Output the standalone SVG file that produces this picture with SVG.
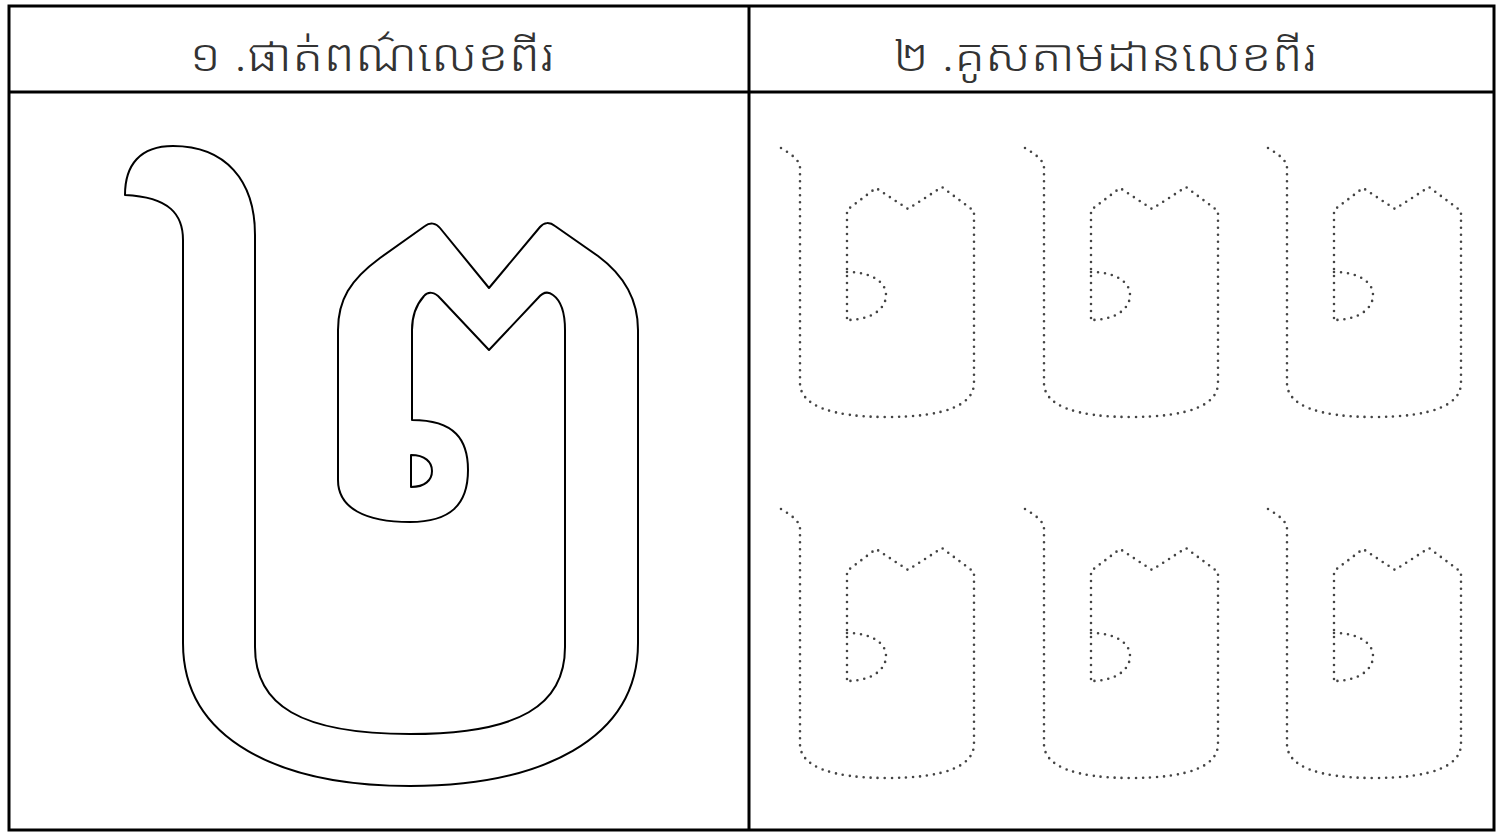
<svg xmlns="http://www.w3.org/2000/svg" width="1506" height="833" viewBox="0 0 1506 833">
  <defs>
    <style>
      .frame { fill: none; stroke: #000; stroke-width: 3; }
      .title { font-family: "Noto Sans Khmer", "Khmer OS", "Khmer OS System", "Noto Sans", "DejaVu Sans", sans-serif; font-size: 44px; font-weight: 300; fill: #333; text-anchor: middle; }
      .outline { fill: #fff; stroke: #000; stroke-width: 2; stroke-linejoin: round; }
      .dots { fill: none; stroke: #444; stroke-width: 2.6; stroke-linecap: round; stroke-dasharray: 0 7; }
    </style>
    <g id="trace">
      <path class="dots" d="M781,148 C791,154 800,160 800,168 L800,383 C800,405 830,417 887,417 C945,417 974,405 974,383 L974,211 L942,187 L908,209 L876,188 L847,210 L847,320"/>
      <path class="dots" d="M847,272 C870,272 886,281 886,295 C886,310 870,320 847,320"/>
    </g>
  </defs>
  <rect width="1506" height="833" fill="#fff"/>

  <g id="frame">
    <rect class="frame" x="9" y="6" width="1485" height="824"/>
    <line class="frame" x1="9" y1="92" x2="1494" y2="92"/>
    <line class="frame" x1="749" y1="6" x2="749" y2="830"/>
  </g>

  <g id="title-1">
    <text class="title" x="372" y="71" textLength="365" lengthAdjust="spacingAndGlyphs">១ .ផាត់ពណ៌លេខពីរ</text>
  </g>
  <g id="title-2">
    <text class="title" x="1105" y="71" textLength="424" lengthAdjust="spacingAndGlyphs">២ .គូសតាមដានលេខពីរ</text>
  </g>

  <g id="big-digit">
    <path class="outline" d="M125,195 C125,165 140,146 173,146 C225,146 255,180 255,235 L255,647 C255,705 300,734 410,734 C520,734 565,705 565,647 L565,330 C565,310 560,300 553,295 C548,291 543,292 538,298 L489,350 L440,298 C435,292 428,291 424,296 C416,305 412,315 412,330 L412,420 C455,420 468,440 468,470 C468,505 450,522 410,522 C365,522 338,508 338,480 L338,330 C338,300 350,280 380,258 L425,226 C430,222 436,223 440,228 L489,288 L540,227 C544,222 550,222 555,226 L598,256 C625,276 638,300 638,330 L638,643 C638,740 540,786 410,786 C280,786 183,740 183,643 L183,240 C183,215 170,197 125,195 Z"/>
    <path class="outline" d="M411,455 L411,487 C425,487 432,480 432,471 C432,462 425,455 411,455 Z"/>
  </g>

  <g id="trace-1-1"><use href="#trace"/></g>
  <g id="trace-1-2"><use href="#trace" transform="translate(244,0)"/></g>
  <g id="trace-1-3"><use href="#trace" transform="translate(487,0)"/></g>
  <g id="trace-2-1"><use href="#trace" transform="translate(0,361)"/></g>
  <g id="trace-2-2"><use href="#trace" transform="translate(244,361)"/></g>
  <g id="trace-2-3"><use href="#trace" transform="translate(487,361)"/></g>
</svg>
